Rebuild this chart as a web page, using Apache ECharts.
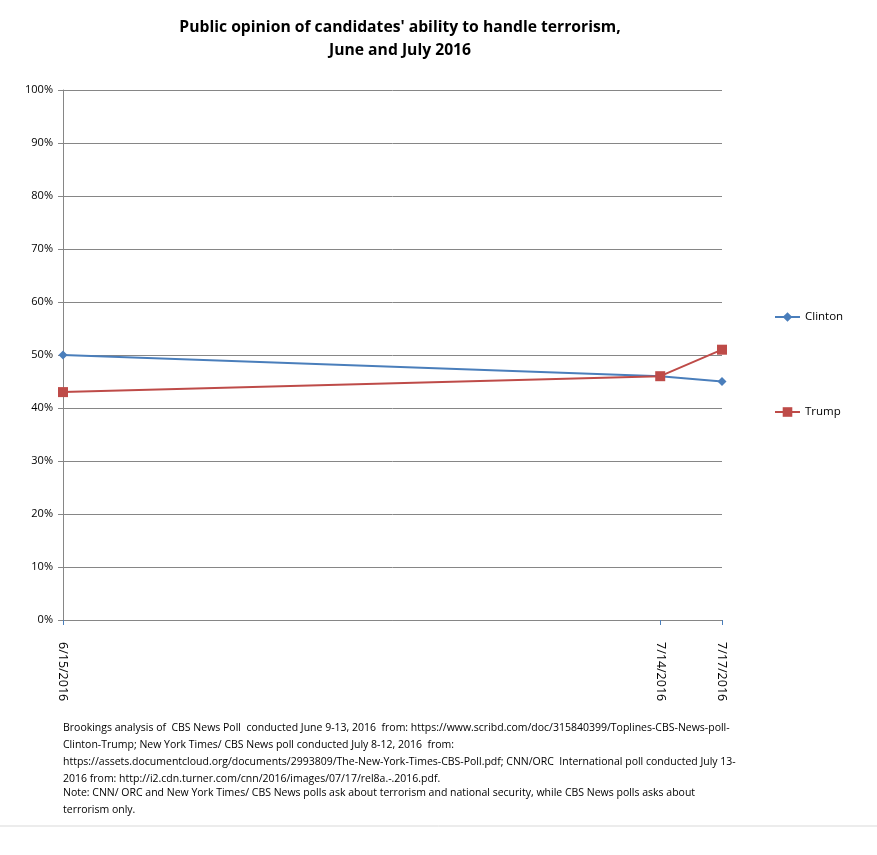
<!DOCTYPE html>
<html><head><meta charset="utf-8">
<script src="https://cdn.jsdelivr.net/npm/echarts@6/dist/echarts.min.js"></script>
<style>html,body{margin:0;padding:0;background:#fff}#c{width:877px;height:855px}</style>
</head><body><div id="c"></div>
<script>
const dates = ['2016-06-15', '2016-07-14', '2016-07-17'];
const clinton = [50, 46, 45];
const trump = [43, 46, 51];
const yTicks = [0, 10, 20, 30, 40, 50, 60, 70, 80, 90, 100];
const titleText = "Public opinion of candidates' ability to handle terrorism,\nJune and July 2016";
const sourceLines = [
  "Brookings analysis of  CBS News Poll  conducted June 9-13, 2016  from: https://www.scribd.com/doc/315840399/Toplines-CBS-News-poll-",
  "Clinton-Trump; New York Times/ CBS News poll conducted July 8-12, 2016  from:",
  "https://assets.documentcloud.org/documents/2993809/The-New-York-Times-CBS-Poll.pdf; CNN/ORC  International poll conducted July 13-",
  "2016 from: http://i2.cdn.turner.com/cnn/2016/images/07/17/rel8a.-.2016.pdf."
];
const noteLines = [
  "Note: CNN/ ORC and New York Times/ CBS News polls ask about terrorism and national security, while CBS News polls asks about",
  "terrorism only."
];

const DAY = 86400000;
function dayNum(d){ const p=d.split('-').map(Number); return Math.round(Date.UTC(p[0], p[1]-1, p[2]) / DAY); }
function fmtDay(n){ const d = new Date(n * DAY); return (d.getUTCMonth()+1) + '/' + d.getUTCDate() + '/' + d.getUTCFullYear(); }
const tickDays = dates.map(dayNum);
const chart = echarts.init(document.getElementById('c'));
const font = '"Open Sans", "Liberation Sans", sans-serif';
chart.setOption({
  animation: false,
  textStyle: { fontFamily: font },
  title: {
    text: titleText, left: 395, top: 11, textAlign: 'center',
    textStyle: { fontSize: 15.7, fontWeight: 'bold', color: '#000', lineHeight: 23, fontFamily: font }
  },
  legend: {
    orient: 'vertical', left: 769, top: 306, itemGap: 83, itemWidth: 25, itemHeight: 12,
    textStyle: { fontSize: 11.5, color: '#000' },
    data: ['Clinton', 'Trump']
  },
  grid: { left: 63, top: 90, width: 659, height: 530 },
  xAxis: {
    type: 'value', min: tickDays[0], max: tickDays[2],
    axisLine: { lineStyle: { color: '#868686' } },
    axisTick: { show: true, customValues: tickDays, length: 5, lineStyle: { color: '#4a7ebb' } },
    splitLine: { show: false },
    axisLabel: {
      customValues: tickDays, rotate: -90, margin: 22, fontSize: 12.5, color: '#000',
      formatter: v => fmtDay(v)
    }
  },
  yAxis: {
    type: 'value', min: 0, max: 100, interval: 10,
    axisLine: { show: true, lineStyle: { color: '#868686' } },
    axisTick: { show: true, length: 5, lineStyle: { color: '#868686' } },
    splitLine: { lineStyle: { color: '#868686' } },
    axisLabel: { formatter: v => v + '%', fontSize: 11, color: '#000', margin: 10 }
  },
  series: [
    { name: 'Clinton', type: 'line', data: dates.map((d,i)=>[dayNum(d), clinton[i]]),
      symbol: 'diamond', symbolSize: 9, color: '#4a7ebb', lineStyle: { width: 2 } },
    { name: 'Trump', type: 'line', data: dates.map((d,i)=>[dayNum(d), trump[i]]),
      symbol: 'rect', symbolSize: 10, color: '#be4b48', lineStyle: { width: 2 } }
  ],
  graphic: [
    { type: 'text', left: 63, top: 720, style: { text: sourceLines.join('\n'), font: '10.5px ' + font, lineHeight: 17, fill: '#000' } },
    { type: 'text', left: 63, top: 785, style: { text: noteLines.join('\n'), font: '10.5px ' + font, lineHeight: 17, fill: '#000' } },
    { type: 'line', shape: { x1: 0, y1: 826, x2: 877, y2: 826 }, style: { stroke: '#d9d9d9', lineWidth: 1 } }
  ]
});
</script></body></html>
